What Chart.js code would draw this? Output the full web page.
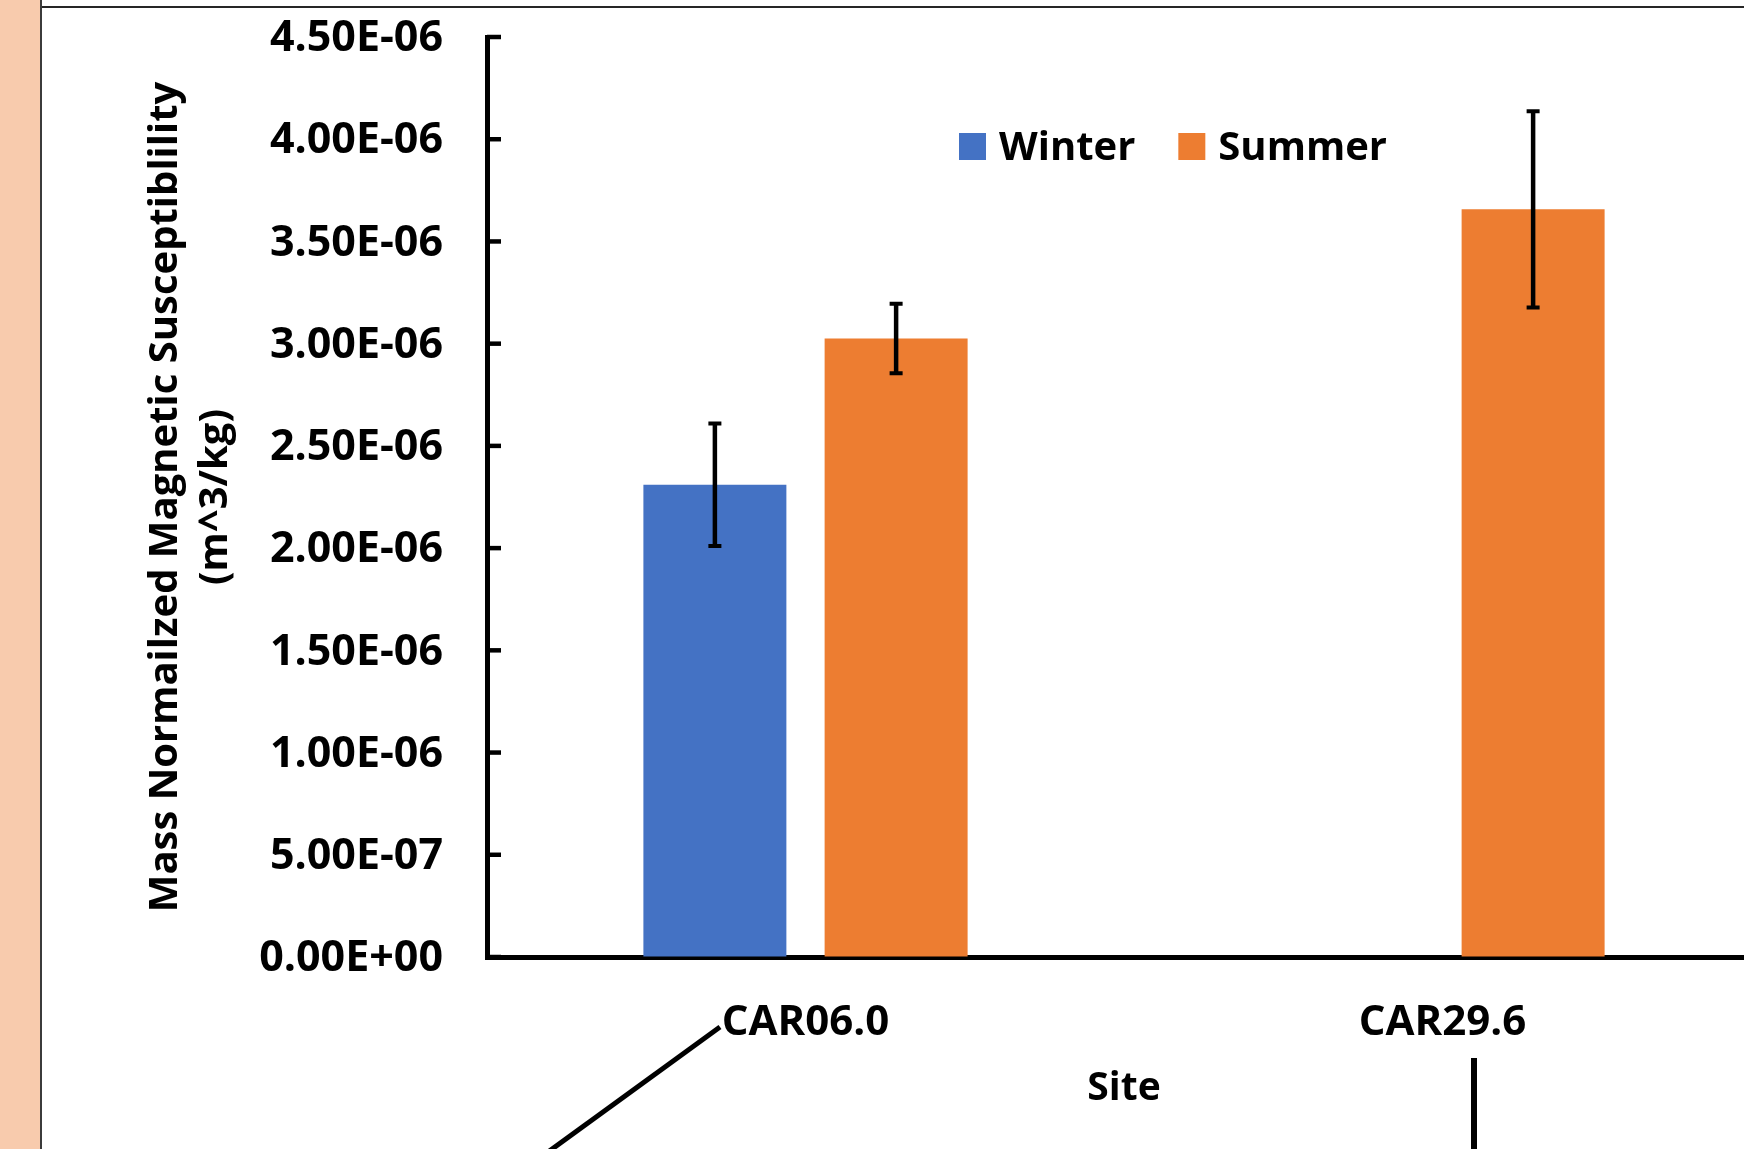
<!DOCTYPE html>
<html>
<head>
<meta charset="utf-8">
<title>Mass Normalized Magnetic Susceptibility by Site</title>
<script src="https://cdn.jsdelivr.net/npm/chart.js@4.4.1/dist/chart.umd.min.js"></script>
<style>
  html, body { margin: 0; padding: 0; width: 1744px; height: 1149px; overflow: hidden; background: #ffffff; }
  #strip { position: absolute; left: 0; top: 0; width: 40px; height: 1149px; background: #F8CBAD; border-right: 2px solid #3b3b3b; }
  #topRule { position: absolute; left: 42px; top: 6px; width: 1702px; height: 2px; background: #262626; }
  #chart { position: absolute; left: 0; top: 0; }
  #callouts { position: absolute; left: 0; top: 0; pointer-events: none; }
</style>
</head>
<body>
<div id="strip"></div>
<div id="topRule"></div>
<canvas id="chart" width="1761" height="1149"></canvas>
<svg id="callouts" width="1744" height="1149">
  <line x1="720" y1="1027" x2="548" y2="1152" stroke="#000" stroke-width="5"/>
  <line x1="1474" y1="1058" x2="1474" y2="1152" stroke="#000" stroke-width="6"/>
</svg>
<script>
// Sites along the category axis
const sites = ['CAR06.0', 'CAR29.6'];
const seriesNames = ['Winter', 'Summer'];
const seriesColors = ['#4472C4', '#ED7D31'];

// Mass normalized magnetic susceptibility (m^3/kg) and error-bar half widths
const winterValues = [2.31e-6, null];
const summerValues = [3.025e-6, 3.657e-6];
const winterErrors = [0.30e-6, null];
const summerErrors = [0.17e-6, 0.48e-6];

// Value axis ticks
const yTickValues = [0, 0.5e-6, 1.0e-6, 1.5e-6, 2.0e-6, 2.5e-6, 3.0e-6, 3.5e-6, 4.0e-6, 4.5e-6];

const FONT = '"Open Sans", Lato, "DejaVu Sans", sans-serif';

// Excel-style scientific label, e.g. 4.50E-06
function sciLabel(v) {
  const parts = Number(v).toExponential(2).split('e');
  const exp = parseInt(parts[1], 10);
  return parts[0] + 'E' + (exp < 0 ? '-' : '+') + String(Math.abs(exp)).padStart(2, '0');
}

const errorsBySeries = [winterErrors, summerErrors];

// Vertical error bars with flat caps, placed on each bar element
const errorBarPlugin = {
  id: 'errorBars',
  afterDatasetsDraw(chart) {
    const ctx = chart.ctx;
    const yScale = chart.scales.y;
    ctx.save();
    ctx.strokeStyle = '#000000';
    chart.data.datasets.forEach((ds, i) => {
      const meta = chart.getDatasetMeta(i);
      const errs = errorsBySeries[i];
      meta.data.forEach((bar, j) => {
        const v = ds.data[j];
        const e = errs[j];
        if (v == null || e == null) return;
        const yTop = yScale.getPixelForValue(v + e);
        const yBot = yScale.getPixelForValue(v - e);
        const x = bar.x;
        ctx.lineWidth = 4.5;
        ctx.beginPath();
        ctx.moveTo(x, yTop);
        ctx.lineTo(x, yBot);
        ctx.stroke();
        ctx.lineWidth = 4;
        ctx.beginPath();
        ctx.moveTo(x - 6.5, yTop);
        ctx.lineTo(x + 6.5, yTop);
        ctx.moveTo(x - 6.5, yBot);
        ctx.lineTo(x + 6.5, yBot);
        ctx.stroke();
      });
    });
    ctx.restore();
  }
};

// Short tick marks pointing into the plot from the value axis
const innerTicksPlugin = {
  id: 'innerTicks',
  afterDraw(chart) {
    const ctx = chart.ctx;
    const yScale = chart.scales.y;
    const left = chart.chartArea.left;
    ctx.save();
    ctx.strokeStyle = '#000000';
    ctx.lineWidth = 4.5;
    yScale.ticks.forEach(t => {
      const y = yScale.getPixelForValue(t.value);
      ctx.beginPath();
      ctx.moveTo(left, y);
      ctx.lineTo(left + 14, y);
      ctx.stroke();
    });
    ctx.restore();
  }
};

// Legend drawn inside the plot area
const insideLegendPlugin = {
  id: 'insideLegend',
  afterDraw(chart) {
    const ctx = chart.ctx;
    const box = 27, gapText = 13, gapItem = 43;
    let x = 959;
    const top = 133;
    const baseline = 160;
    ctx.save();
    ctx.font = 'bold 40px ' + FONT;
    ctx.textBaseline = 'alphabetic';
    ctx.textAlign = 'left';
    chart.data.datasets.forEach(ds => {
      ctx.fillStyle = ds.backgroundColor;
      ctx.fillRect(x, top, box, box);
      x += box + gapText;
      ctx.fillStyle = '#000000';
      ctx.fillText(ds.label, x, baseline);
      x += ctx.measureText(ds.label).width + gapItem;
    });
    ctx.restore();
  }
};

const chart = new Chart(document.getElementById('chart'), {
  type: 'bar',
  data: {
    labels: sites,
    datasets: [
      { label: seriesNames[0], data: winterValues, backgroundColor: seriesColors[0],
        categoryPercentage: 0.569, barPercentage: 0.789 },
      { label: seriesNames[1], data: summerValues, backgroundColor: seriesColors[1],
        categoryPercentage: 0.569, barPercentage: 0.789 }
    ]
  },
  options: {
    responsive: false,
    animation: false,
    layout: { padding: { top: 37, right: 0, bottom: 0, left: 0 } },
    plugins: { legend: { display: false }, tooltip: { enabled: false } },
    scales: {
      x: {
        type: 'category',
        offset: true,
        grid: { drawOnChartArea: false, drawTicks: false },
        border: { display: true, color: '#000000', width: 5 },
        ticks: { color: '#000000', padding: 41, font: { family: FONT, size: 42, weight: 'bold' } },
        title: { display: true, text: 'Site', color: '#000000',
                 font: { family: FONT, size: 39, weight: 'bold', lineHeight: 1.2 },
                 padding: { top: 0, bottom: 37 } },
        afterFit(s) { s.height = 192; s.paddingLeft = 0; s.paddingRight = 0; }
      },
      y: {
        min: 0,
        max: 4.5e-6,
        grid: { drawOnChartArea: false, drawTicks: false },
        border: { display: true, color: '#000000', width: 5 },
        afterBuildTicks(s) { s.ticks = yTickValues.map(v => ({ value: v })); },
        ticks: { color: '#000000', padding: 44, labelOffset: 2,
                 font: { family: FONT, size: 43, weight: 'bold' },
                 callback: v => sciLabel(v) },
        title: { display: true, text: ['Mass Normailzed Magnetic Susceptiblility', '(m^3/kg)'], color: '#000000',
                 font: { family: FONT, size: 40, weight: 'bold', lineHeight: '50px' },
                 padding: { top: 141, bottom: 0 } },
        afterFit(s) { s.width = 487; s.paddingTop = 0; s.paddingBottom = 0; }
      }
    }
  },
  plugins: [errorBarPlugin, innerTicksPlugin, insideLegendPlugin]
});
</script>
</body>
</html>
